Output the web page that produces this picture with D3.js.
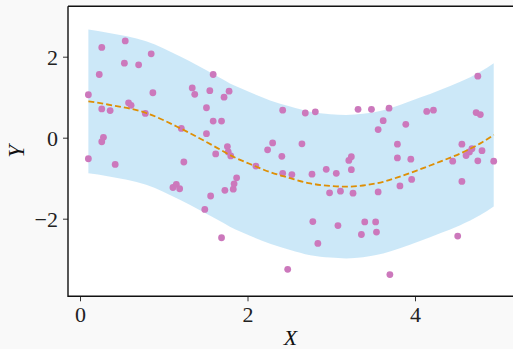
<!DOCTYPE html>
<html><head><meta charset="utf-8">
<script src="https://cdn.jsdelivr.net/npm/d3@7"></script>
<style>
html,body{margin:0;padding:0;background:#f9f9f9;}
svg{display:block;}
</style></head>
<body>
<svg id="chart" width="513" height="349"></svg>
<script>
// scatter data (X, Y)
const pointsX = [0.10,0.26,0.23,0.54,0.53,0.70,0.85,0.87,0.58,0.61,0.26,0.36,0.78,0.28,0.26,0.10,0.42,1.24,1.21,1.34,1.37,1.59,1.55,1.78,1.72,1.51,1.59,1.69,1.51,1.76,1.77,1.80,1.62,2.10,4.75,2.42,2.69,2.81,3.32,3.48,3.69,3.62,3.56,3.89,4.14,4.22,4.73,4.78,2.30,2.24,2.41,2.65,3.79,3.79,3.95,3.24,3.21,3.24,2.94,3.06,2.77,2.42,2.53,4.56,4.61,4.65,4.68,4.80,4.75,4.45,4.94,1.11,1.15,1.19,1.49,1.56,1.69,1.73,1.83,1.84,1.87,2.98,3.11,3.26,3.56,3.82,3.96,4.56,2.78,3.08,3.40,3.53,3.36,3.54,2.84,2.48,3.70,4.51];
const pointsY = [1.06,2.23,1.56,2.39,1.84,1.80,2.07,1.11,0.86,0.80,0.71,0.67,0.60,0.01,-0.10,-0.52,-0.66,-0.60,0.23,1.23,1.07,1.56,1.16,1.15,1.00,0.74,0.41,0.41,0.10,-0.22,-0.35,-0.45,-0.40,-0.70,1.52,0.68,0.61,0.64,0.70,0.70,0.73,0.42,0.20,0.33,0.65,0.68,0.62,0.57,-0.13,-0.30,-0.46,-0.15,-0.16,-0.50,-0.53,-0.47,-0.56,-0.79,-0.78,-0.88,-0.90,-0.88,-0.91,-0.16,-0.44,-0.35,-0.27,-0.32,-0.57,-0.58,-0.58,-1.23,-1.15,-1.26,-1.77,-1.44,-2.47,-1.30,-1.27,-1.14,-0.99,-1.36,-1.32,-1.37,-1.34,-1.19,-1.03,-1.08,-2.07,-2.17,-2.08,-2.08,-2.39,-2.33,-2.61,-3.25,-3.38,-2.43];

// fitted mean curve and its band
const curveX = [0.10,0.33,0.79,1.21,1.61,1.85,2.03,2.27,2.51,2.75,2.99,3.18,3.38,3.62,3.82,4.06,4.30,4.54,4.78,4.94];
const curveY = [0.90,0.82,0.61,0.22,-0.22,-0.49,-0.65,-0.85,-1.00,-1.13,-1.19,-1.21,-1.18,-1.09,-0.96,-0.78,-0.59,-0.39,-0.14,0.07];
const bandUpper = [2.67,2.59,2.38,1.99,1.55,1.28,1.12,0.92,0.77,0.64,0.58,0.56,0.59,0.68,0.81,0.99,1.18,1.38,1.63,1.84];
const bandLower = [-0.88,-0.95,-1.16,-1.55,-1.99,-2.26,-2.42,-2.62,-2.77,-2.90,-2.96,-2.98,-2.95,-2.86,-2.73,-2.55,-2.36,-2.16,-1.91,-1.70];

const xTicks = [0,2,4];
const yTicks = [-2,0,2];
const xLabel = "X", yLabel = "Y";

const svg = d3.select("#chart");
const L = 68, R = 515, T = 6.3, B = 296.3;
const x = d3.scaleLinear().domain([-12/83.75, (R-80)/83.75]).range([L, R]);
const y = d3.scaleLinear().domain([-(B-137.7)/40.5, (137.7-T)/40.5]).range([B, T]);

svg.append("rect").attr("x",L).attr("y",T).attr("width",R-L).attr("height",B-T).attr("fill","#ffffff");

const bandData = curveX.map((v,i)=>({x:v, lo:bandLower[i], hi:bandUpper[i]}));
svg.append("path").datum(bandData)
  .attr("d", d3.area().x(d=>x(d.x)).y0(d=>y(d.lo)).y1(d=>y(d.hi)).curve(d3.curveMonotoneX))
  .attr("fill","#56b4e9").attr("fill-opacity",0.3);

const pts = pointsX.map((v,i)=>({x:v,y:pointsY[i]}));
svg.append("g").selectAll("circle").data(pts).join("circle")
  .attr("cx",d=>x(d.x)).attr("cy",d=>y(d.y)).attr("r",3.4).attr("fill","#cc78bc");

const lineData = curveX.map((v,i)=>({x:v,y:curveY[i]}));
svg.append("path").datum(lineData)
  .attr("d", d3.line().x(d=>x(d.x)).y(d=>y(d.y)).curve(d3.curveMonotoneX))
  .attr("fill","none").attr("stroke","#de8f05").attr("stroke-width",1.8).attr("stroke-dasharray","6,3");

const fmt = d => d < 0 ? "\u2212" + Math.abs(d) : String(d);
const font = "'Liberation Serif','DejaVu Serif',serif";

const gx = svg.append("g").attr("transform",`translate(0,${B})`)
  .call(d3.axisBottom(x).tickValues(xTicks).tickSize(5).tickPadding(5).tickFormat(fmt));
const gy = svg.append("g").attr("transform",`translate(${L},0)`)
  .call(d3.axisLeft(y).tickValues(yTicks).tickSize(5).tickPadding(5).tickFormat(fmt));
[gx,gy].forEach(g=>{
  g.select(".domain").remove();
  g.selectAll(".tick line").attr("stroke","#333").attr("stroke-width",1);
  g.selectAll(".tick text").attr("font-family",font).attr("font-size",22).attr("fill","#222");
});
gy.selectAll(".tick text").attr("dy","0.35em");

// spines
svg.append("path").attr("d",`M${L},${T}H${R}M${L},${T}V${B}H${R}`)
  .attr("fill","none").attr("stroke","#111").attr("stroke-width",1.4);

svg.append("text").attr("x",(L+513)/2).attr("y",345).attr("text-anchor","middle")
  .attr("font-family",font).attr("font-style","italic").attr("font-size",22).attr("fill","#111").text(xLabel);
svg.append("text").attr("transform",`translate(24,${(T+B)/2}) rotate(-90)`).attr("text-anchor","middle")
  .attr("font-family",font).attr("font-style","italic").attr("font-size",23).attr("fill","#111").text(yLabel);
</script>
</body></html>
